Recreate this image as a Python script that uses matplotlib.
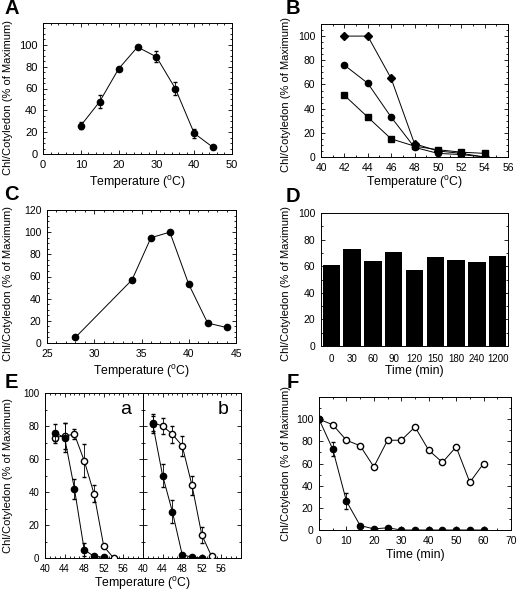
import numpy as np
import matplotlib
matplotlib.use("Agg")
import matplotlib.pyplot as plt
import matplotlib.transforms as mtransforms
from matplotlib.ticker import MultipleLocator

plt.rcParams["font.family"] = ["Liberation Sans", "DejaVu Sans"]
plt.rcParams["mathtext.default"] = "regular"
plt.rcParams["font.size"] = 7.5

# --- Dados ---
# A
temp_a = [10, 15, 20, 25, 30, 35, 40, 45]
chl_a = [26, 48, 78, 98, 89, 60, 19, 6]
err_a = [3, 6, 2, 1, 5, 6, 4, 1]

# B
temp_b = [42, 44, 46, 48, 50, 52, 54]
chl_b_diamond = [100, 100, 65, 11, 5, 3, 0]
chl_b_circle = [76, 61, 33, 8, 3, 2, 0]
chl_b_square = [51, 33, 15, 9, 6, 4, 3]

# C
temp_c = [28, 34, 36, 38, 40, 42, 44]
chl_c = [5, 57, 95, 100, 53, 18, 14]

# D
time_d = ["0", "30", "60", "90", "120", "150", "180", "240", "1200"]
chl_d = [61, 73, 64, 71, 57, 67, 65, 63, 68]

# E
temp_e = [42, 44, 46, 48, 50, 52, 54]
chl_ea_fill = [76, 73, 42, 5, 1, 0.5, np.nan]
err_ea_fill = [5, 9, 6, 4, 0, 0, 0]
chl_ea_open = [73, 74, 75, 59, 39, 7, 0]
err_ea_open = [3, 8, 3, 10, 5, 0, 0]
chl_eb_fill = [81, 50, 28, 2, 0.5, 0, np.nan]
err_eb_fill = [5, 7, 7, 0, 0, 0, 0]
chl_eb_open = [82, 80, 75, 68, 44, 14, 1]
err_eb_open = [5, 5, 5, 6, 6, 5, 0]

# F
time_f = [0, 5, 10, 15, 20, 25, 30, 35, 40, 45, 50, 55, 60]
chl_f_open = [100, 95, 81, 76, 57, 81, 81, 93, 72, 61, 75, 43, 60]
chl_f_fill = [100, 73, 26, 4, 1, 2, 0, 0, 0, 0, 0, 0, 0]
err_f_fill = [0, 6, 7, 0, 0, 0, 0, 0, 0, 0, 0, 0, 0]

W, H = 519, 593
fig = plt.figure(figsize=(W / 100, H / 100), dpi=100)


def eixo(esq, topo, dir_, base):
    return fig.add_axes([esq / W, 1 - base / H, (dir_ - esq) / W, (base - topo) / H])


def estilo(ax, ylabel_x=None, ylabel_y=None, xlabel=None, xlabel_y=None, xlabel_x=None):
    ax.tick_params(which="both", direction="in", top=True, right=True, width=0.6)
    ax.tick_params(which="major", length=3, pad=4)
    ax.tick_params(which="minor", length=1.5)
    for s in ax.spines.values():
        s.set_linewidth(0.7)
    if ylabel_x is not None:
        ax.set_ylabel("Chl/Cotyledon (% of Maximum)", fontsize=8)
        trans = mtransforms.blended_transform_factory(fig.transFigure, ax.transAxes)
        ax.yaxis.set_label_coords(ylabel_x / W, 0.5 if ylabel_y is None else ylabel_y,
                                  transform=trans)
        ax.yaxis.label.set_va("center")
    if xlabel is not None:
        ax.set_xlabel(xlabel, fontsize=8.8)
        bb = ax.get_position()
        cx = bb.x0 + bb.width / 2 if xlabel_x is None else xlabel_x / W
        ax.xaxis.set_label_coords(cx, 1 - xlabel_y / H, transform=fig.transFigure)
        ax.xaxis.label.set_va("center")


def letra(x, y, txt):
    fig.text(x / W, 1 - y / H, txt, fontsize=14.5, fontweight="bold", va="center", ha="center")


lw = 0.7
ms = 4.5
tlabel = "Temperature ($^o$C)"

# A
ax = eixo(43, 23, 232, 154)
ax.errorbar(temp_a, chl_a, yerr=err_a, color="black", marker="o", ms=ms, lw=lw,
            elinewidth=0.6, capsize=1.5)
ax.set_xlim(0, 50)
ax.set_ylim(0, 120)
ax.set_yticks([0, 20, 40, 60, 80, 100])
ax.xaxis.set_minor_locator(MultipleLocator(2))
ax.yaxis.set_minor_locator(MultipleLocator(5))
ax.tick_params(labelsize=8)
estilo(ax, ylabel_x=8, ylabel_y=0.43, xlabel=tlabel, xlabel_y=183)
letra(12, 8, "A")

# B
ax = eixo(321, 24, 508, 157)
ax.plot(temp_b, chl_b_diamond, color="black", marker="D", ms=4, lw=lw)
ax.plot(temp_b, chl_b_circle, color="black", marker="o", ms=ms, lw=lw)
ax.plot(temp_b, chl_b_square, color="black", marker="s", ms=ms, lw=lw)
ax.set_xlim(40, 56)
ax.set_ylim(0, 110)
ax.set_xticks(range(40, 57, 2))
ax.set_yticks([0, 20, 40, 60, 80, 100])
ax.xaxis.set_minor_locator(MultipleLocator(1))
ax.yaxis.set_minor_locator(MultipleLocator(5))
estilo(ax, ylabel_x=286, ylabel_y=0.47, xlabel=tlabel, xlabel_y=183)
letra(293, 9, "B")

# C
ax = eixo(47, 210, 236, 343)
ax.plot(temp_c, chl_c, color="black", marker="o", ms=ms, lw=lw)
ax.set_xlim(25, 45)
ax.set_ylim(0, 120)
ax.set_yticks([0, 20, 40, 60, 80, 100, 120])
ax.xaxis.set_minor_locator(MultipleLocator(1))
ax.yaxis.set_minor_locator(MultipleLocator(5))
estilo(ax, ylabel_x=8, ylabel_y=0.45, xlabel=tlabel, xlabel_y=371)
letra(11, 194, "C")

# D
ax = eixo(321, 213, 508, 346)
pos = np.arange(len(time_d))
ax.bar(pos, chl_d, width=0.84, color="black")
ax.set_xlim(-0.5, len(time_d) - 0.5)
ax.set_xticks(pos)
ax.set_xticklabels(time_d)
ax.set_ylim(0, 100)
ax.set_yticks([0, 20, 40, 60, 80, 100])
ax.yaxis.set_minor_locator(MultipleLocator(10))
estilo(ax, ylabel_x=286, ylabel_y=0.47, xlabel="Time (min)", xlabel_y=371)
ax.tick_params(axis="x", which="major", length=0, pad=6, labelsize=7)
letra(293, 197, "D")

# E
for i, (fill, efill, opn, eopn, nome) in enumerate([
        (chl_ea_fill, err_ea_fill, chl_ea_open, err_ea_open, "a"),
        (chl_eb_fill, err_eb_fill, chl_eb_open, err_eb_open, "b")]):
    esq = 45 + i * 98
    ax = eixo(esq, 393, esq + 98, 558)
    ax.errorbar(temp_e, opn, yerr=eopn, color="black", marker="o", mfc="white",
                ms=ms, lw=lw, elinewidth=0.6, capsize=1.5, zorder=3)
    ax.errorbar(temp_e, fill, yerr=efill, color="black", marker="o", ms=ms, lw=lw,
                elinewidth=0.6, capsize=1.5, zorder=4)
    ax.set_xlim(40, 60)
    ax.set_ylim(0, 100)
    ax.set_xticks([40, 44, 48, 52, 56])
    ax.set_yticks([0, 20, 40, 60, 80, 100])
    ax.xaxis.set_minor_locator(MultipleLocator(1))
    ax.yaxis.set_minor_locator(MultipleLocator(10))
    ax.text(0.82, 0.9, nome, transform=ax.transAxes, fontsize=14, ha="center", va="center")
    ax.tick_params(axis="both", labelsize=7)
    if i == 0:
        estilo(ax, ylabel_x=8, ylabel_y=0.5, xlabel=tlabel, xlabel_y=584, xlabel_x=143)
    else:
        estilo(ax)
        ax.set_yticklabels([])
letra(11, 382, "E")

# F
ax = eixo(319, 397, 511, 530)
ax.plot(time_f, chl_f_open, color="black", marker="o", mfc="white", ms=ms, lw=lw)
ax.errorbar(time_f, chl_f_fill, yerr=err_f_fill, color="black", marker="o", ms=ms,
            lw=lw, elinewidth=0.6, capsize=1.5)
ax.set_xlim(0, 70)
ax.set_ylim(0, 120)
ax.set_xticks(range(0, 71, 10))
ax.set_yticks([0, 20, 40, 60, 80, 100])
ax.xaxis.set_minor_locator(MultipleLocator(5))
ax.yaxis.set_minor_locator(MultipleLocator(10))
estilo(ax, ylabel_x=286, ylabel_y=0.5, xlabel="Time (min)", xlabel_y=555)
letra(293, 382, "F")

fig.savefig("out.png", dpi=100)
